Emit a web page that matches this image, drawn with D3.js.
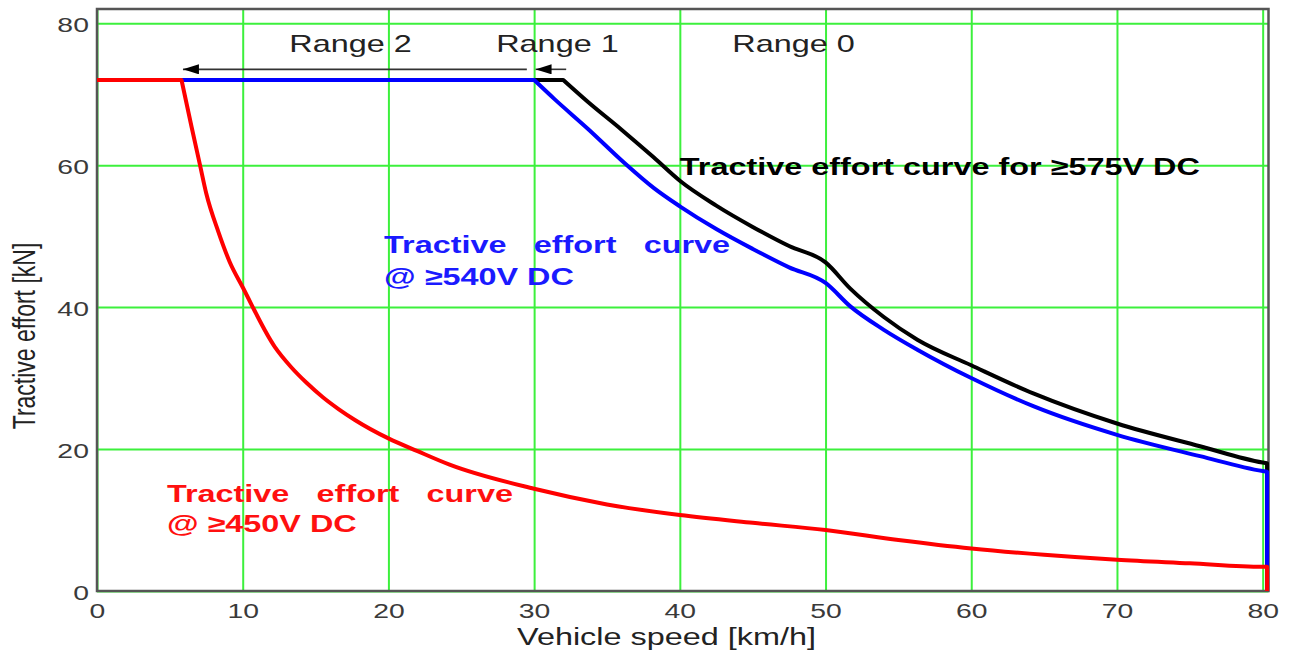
<!DOCTYPE html>
<html>
<head>
<meta charset="utf-8">
<script src="https://cdn.jsdelivr.net/npm/d3@7"></script>
<style>
	body { margin: 0; background: #fff; }
	text { font-family: "Liberation Sans", Arial, sans-serif; }
</style>
</head>
<body>
<div id="chart-area"></div>
<script>

// speed [km/h] and tractive effort [kN]

// >=575V DC (black)
let speed575 = [0, 32, 33.7, 36, 38.2, 40, 42.5, 45, 47.5, 50, 51.7, 54, 56.3, 60, 64.3, 70, 75.7, 80, 80.3, 80.3];
let effort575 = [72, 72, 68.9, 65.0, 61.1, 57.8, 54.3, 51.3, 48.6, 46.3, 42.6, 38.6, 35.4, 31.8, 27.8, 23.6, 20.4, 18.1, 18.0, 0];

// >=540V DC (blue)
let speed540 = [0, 30, 31.4, 33.7, 36.2, 38.2, 40, 42.5, 45, 47.5, 50, 51.7, 54, 56.3, 60, 64.3, 70, 75.7, 80, 80.3, 80.3];
let effort540 = [72, 72, 69.3, 65.1, 60.3, 56.8, 54.2, 51.0, 48.2, 45.6, 43.4, 40.1, 36.8, 34.0, 30.0, 26.0, 22.0, 19.0, 16.9, 16.8, 0];

// >=450V DC (red)
let speed450 = [0, 5.8, 6.5, 7.07, 7.5, 8.33, 9.1, 10, 12.2, 13.3, 14.4, 15.5, 16.6, 17.7, 20, 22, 24.2, 30, 35, 40, 45, 50, 55, 60, 65, 70, 75, 80, 80.3, 80.3];
let effort450 = [72, 72, 65.3, 60, 56, 50.6, 46.4, 42.8, 34.4, 31.6, 29.3, 27.3, 25.6, 24.1, 21.5, 19.7, 17.8, 14.4, 12.2, 10.7, 9.6, 8.6, 7.2, 6.0, 5.1, 4.4, 3.9, 3.4, 3.4, 0];

// range boundaries (arrows point from the higher to the lower speed)
let rangeNames = ["Range 2", "Range 1", "Range 0"];
let rangeArrowFrom = [29.5, 32.2];
let rangeArrowTo = [5.9, 30.1];

// axis ticks
let xTicks = [0, 10, 20, 30, 40, 50, 60, 70, 80];
let yTicks = [0, 20, 40, 60, 80];

// the original picture is stretched sideways, so is its text
let stretch = 1.35;

drawChart();

function zip(xs, ys) {
	return xs.map((v, i) => ({speed: v, effort: ys[i]}));
}

function drawChart() {

	let margin = {top: 9, right: 25.5, bottom: 61, left: 97},
		width = 1294 - margin.left - margin.right,
		height = 652 - margin.top - margin.bottom;

	let svg = d3.select("#chart-area").append("svg")
		.attr("width", width + margin.left + margin.right)
		.attr("height", height + margin.top + margin.bottom)
		.append("g")
		.attr("transform", "translate(" + margin.left + "," + margin.top + ")");

	let x = d3.scaleLinear()
		.domain([0, 80.4])
		.range([0, width]);

	let y = d3.scaleLinear()
		.domain([0, 82])
		.range([height, 0]);

	// green grid
	let xGrid = svg.append("g")
		.attr("transform", "translate(0," + height + ")")
		.call(d3.axisBottom(x).tickValues(xTicks).tickSize(-height).tickFormat(""));
	let yGrid = svg.append("g")
		.call(d3.axisLeft(y).tickValues(yTicks).tickSize(-width).tickFormat(""));
	[xGrid, yGrid].forEach(g => {
		g.select(".domain").remove();
		g.selectAll("line").attr("stroke", "#3cf03c").attr("stroke-width", 2);
	});

	// frame
	svg.append("rect")
		.attr("width", width)
		.attr("height", height)
		.attr("fill", "none")
		.attr("stroke", "#555")
		.attr("stroke-width", 2.5);

	// curves: straight flat part, smooth falling part, straight drop at the end
	let straight = d3.line()
		.x(d => x(d.speed))
		.y(d => y(d.effort));
	let smooth = d3.line()
		.curve(d3.curveMonotoneX)
		.x(d => x(d.speed))
		.y(d => y(d.effort));

	function curvePath(v) {
		let n = v.length;
		return straight(v.slice(0, 2)) +
			smooth(v.slice(1, n - 1)).replace(/^M/, "L") +
			"L" + x(v[n - 1].speed) + "," + y(v[n - 1].effort);
	}

	let series = [
		{values: zip(speed575, effort575), color: "#000"},
		{values: zip(speed540, effort540), color: "#0000ff"},
		{values: zip(speed450, effort450), color: "#ff0000"}
	];

	svg.selectAll(".curve").data(series)
		.enter()
		.append("path")
		.attr("class", "curve")
		.attr("d", d => curvePath(d.values))
		.attr("fill", "none")
		.attr("stroke", d => d.color)
		.attr("stroke-width", 4)
		.attr("stroke-linejoin", "round");

	// axes
	let xAxis = svg.append("g")
		.attr("transform", "translate(0," + height + ")")
		.call(d3.axisBottom(x).tickValues(xTicks).tickSize(0).tickPadding(12));
	let yAxis = svg.append("g")
		.call(d3.axisLeft(y).tickValues(yTicks).tickSize(0).tickPadding(6));
	[xAxis, yAxis].forEach(g => {
		g.select(".domain").remove();
		g.attr("font-family", null).attr("font-size", null);
		g.selectAll("text")
			.attr("font-size", 21)
			.attr("fill", "#3a3a3a")
			.attr("transform", "scale(" + stretch + ",1)");
	});
	yAxis.selectAll("text").attr("dy", "0.4em");

	// helper for stretched labels
	function label(txt, px, py, opts) {
		opts = opts || {};
		return svg.append("text")
			.attr("transform", "translate(" + px + "," + py + ") scale(" + stretch + ",1)" + (opts.rotate ? " rotate(" + opts.rotate + ")" : ""))
			.attr("text-anchor", opts.anchor || "start")
			.attr("font-size", opts.size || 24)
			.attr("font-weight", opts.bold ? "bold" : "normal")
			.attr("fill", opts.color || "#222")
			.style("word-spacing", (opts.spacing || 0) + "px")
			.text(txt);
	}

	label("Vehicle speed [km/h]", 666.5 - margin.left, 645 - margin.top, {anchor: "middle"});
	label("Tractive effort [kN]", 35 - margin.left, 336 - margin.top, {anchor: "middle", size: 23, rotate: -90});

	// ranges and arrows
	svg.append("defs").append("marker")
		.attr("id", "head")
		.attr("viewBox", "0 0 16 10")
		.attr("refX", 16)
		.attr("refY", 5)
		.attr("markerUnits", "userSpaceOnUse")
		.attr("markerWidth", 16)
		.attr("markerHeight", 10)
		.attr("orient", "auto")
		.append("path")
		.attr("d", "M0,0L16,5L0,10Z")
		.attr("fill", "#000");

	svg.selectAll(".range-arrow").data(rangeArrowFrom)
		.enter()
		.append("line")
		.attr("class", "range-arrow")
		.attr("x1", d => x(d))
		.attr("x2", (d, i) => x(rangeArrowTo[i]))
		.attr("y1", y(73.5))
		.attr("y2", y(73.5))
		.attr("stroke", "#333")
		.attr("stroke-width", 1.6)
		.attr("marker-end", "url(#head)");

	let rangeCenters = [17.4, 31.6, 47.8];
	rangeNames.forEach((r, i) => label(r, x(rangeCenters[i]), y(75.9), {anchor: "middle"}));

	// curve captions
	label("Tractive effort curve for \u2265575V DC", x(40), y(58.6), {bold: true, color: "#000"});
	label("Tractive effort curve", x(19.7), y(47.6), {bold: true, color: "#1a1aff", spacing: 13.5});
	label("@ \u2265540V DC", x(19.7), y(43.1), {bold: true, color: "#1a1aff"});
	label("Tractive effort curve", x(4.8), y(12.5), {bold: true, color: "#ff1010", spacing: 13.5});
	label("@ \u2265450V DC", x(4.8), y(8.3), {bold: true, color: "#ff1010"});
}

</script>
</body>
</html>
